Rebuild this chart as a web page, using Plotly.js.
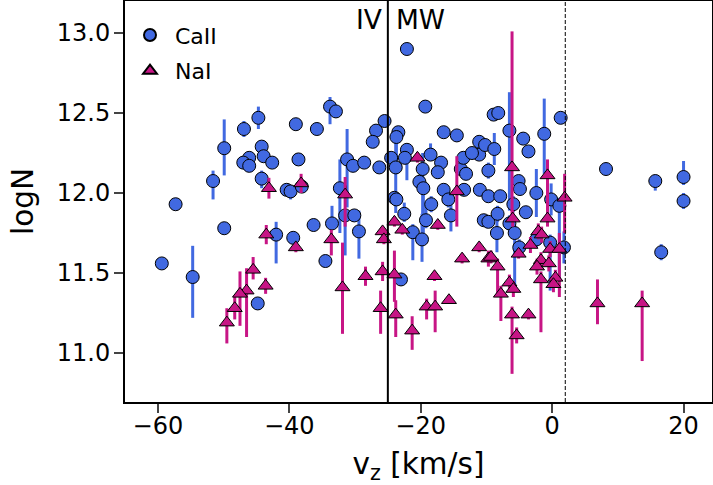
<!DOCTYPE html>
<html>
<head>
<meta charset="utf-8">
<script src="https://cdn.plot.ly/plotly-3.0.1.min.js"></script>
<style>html,body{margin:0;padding:0;background:#fff;}#chart{width:713px;height:485px;}</style>
</head>
<body>
<div id="chart"></div>
<script>
// CaII absorption: velocity, column density, upper/lower errors
const caX = [-44.7,-46.9,-49.9,-44.2,-46.1,-43.9,-47.0,-46.1,-42.6,-51.6,-44.2,-57.3,-49.9,-59.4,-54.7,-44.8,-42.0,
  -39.0,-35.8,-33.8,-32.9,-38.6,-40.4,-39.8,-38.1,-31.2,-30.3,-28.6,-26.3,-25.5,-26.8,-27.3,-24.5,-32.3,-36.3,-33.5,
  -31.5,-30.1,-29.4,-39.4,-34.5,-22.1,-19.3,-23.4,-23.7,-16.5,-14.5,-22.1,-23.8,-22.4,-18.5,-19.7,-16.9,-17.4,-20.2,
  -19.6,-16.5,-15.8,-13.9,-13.1,-13.5,-13.4,-24.0,-23.7,-18.4,-22.5,-19.2,-15.4,-21.2,-19.8,-23.0,-11.0,-11.1,-11.1,
  -12.2,-10.2,-10.4,-9.7,-9.7,-9.7,-8.9,-8.2,1.3,-6.5,-4.4,-3.6,-1.2,-8.8,-5.1,-4.9,-7.9,-2.4,-0.15,1.1,-5.9,-4.0,
  -8.3,-6.5,-8.4,-5.7,-5.0,-2.4,-0.3,1.8,8.2,15.7,20.0,20.0,16.6];
const caY = [12.47,12.40,12.28,12.29,12.22,12.23,12.19,12.17,12.19,12.075,12.09,11.93,11.78,11.56,11.475,11.31,11.74,
  12.43,12.40,12.54,12.51,12.21,12.02,12.01,12.04,12.21,12.17,12.19,12.16,12.45,12.39,12.32,12.22,12.03,11.80,11.81,
  11.86,11.86,11.76,11.72,11.575,12.90,12.54,12.38,12.35,12.38,12.36,12.27,12.16,12.22,12.24,12.15,12.19,12.13,12.07,
  12.03,12.02,11.96,12.15,12.12,12.22,12.02,11.97,11.96,11.93,11.87,11.83,11.86,11.755,11.71,11.46,12.02,12.32,12.24,
  12.25,12.30,11.83,11.82,12.14,11.98,12.49,12.50,12.47,12.39,12.34,12.26,12.37,12.275,12.075,12.025,11.98,12.00,11.96,11.92,11.93,11.88,
  11.87,11.81,11.75,11.75,11.66,11.71,11.69,11.66,12.15,12.075,12.10,11.95,11.63];
const caErrUp = [0.07,0.05,0.18,0.03,0.03,0.03,0.03,0.03,0.03,0.065,0.05,0.02,0.03,0.02,0.195,0.03,0.08,
  0.02,0.04,0.06,0.03,0.04,0.03,0.03,0.03,0.19,0.03,0.03,0.03,0.03,0.03,0.03,0.03,0.18,0.02,0.11,
  0.03,0.03,0.13,0.03,0.02,0.02,0.02,0.02,0.03,0.02,0.03,0.03,0.19,0.03,0.07,0.10,0.03,0.03,0.03,
  0.03,0.03,0.05,0.03,0.03,0.03,0.03,0.03,0.03,0.05,0.07,0.10,0.10,0.05,0.16,0.03,0.03,0.03,0.03,
  0.03,0.03,0.03,0.03,0.05,0.03,0.03,0.03,0.03,0.24,0.03,0.03,0.22,0.10,0.03,0.03,0.03,0.15,0.10,0.05,0.05,0.03,
  0.05,0.05,0.10,0.05,0.05,0.05,0.05,0.10,0.01,0.01,0.10,0.05,0.05];
const caErrDown = [0.07,0.05,0.17,0.03,0.03,0.03,0.03,0.03,0.03,0.115,0.06,0.02,0.02,0.02,0.255,0.04,0.18,
  0.02,0.03,0.11,0.03,0.03,0.03,0.05,0.03,0.30,0.03,0.03,0.03,0.03,0.03,0.03,0.03,0.28,0.03,0.03,
  0.25,0.03,0.17,0.03,0.03,0.02,0.02,0.02,0.15,0.02,0.03,0.19,0.285,0.03,0.04,0.30,0.03,0.03,0.03,
  0.31,0.03,0.05,0.03,0.03,0.03,0.03,0.03,0.03,0.05,0.05,0.05,0.10,0.175,0.14,0.03,0.03,0.03,0.03,
  0.03,0.03,0.03,0.03,0.05,0.03,0.03,0.03,0.03,0.50,0.03,0.03,0.25,0.10,0.03,0.03,0.03,0.15,0.10,0.46,0.05,0.03,
  0.05,0.05,0.12,0.35,0.05,0.05,0.30,0.10,0.01,0.06,0.05,0.05,0.05];

// NaI absorption
const naX = [-43.1,-43.5,-45.5,-43.6,-46.5,-47.5,-48.3,-49.5,-38.2,-31.5,-39.0,-33.6,-31.9,-28.4,-25.8,-25.8,-25.6,
  -24.0,-24.0,-26.1,-23.8,-20.5,-14.5,-22.8,-17.4,-17.9,-11.1,-13.7,-9.7,-21.3,-19.1,-17.8,-15.7,-6.1,-0.7,1.9,
  -6.0,-0.7,-2.1,-1.6,-3.3,-0.3,1.1,-9.3,-8.3,-5.1,-1.7,-2.3,-0.5,-6.5,-5.9,-1.7,0.5,0.2,-7.8,-6.1,-3.6,-5.4,6.9,13.7];
const naY = [12.03,11.74,11.52,11.42,11.39,11.37,11.28,11.19,12.06,11.99,11.66,11.71,11.41,11.48,11.51,11.76,11.71,
  11.82,11.49,11.28,11.24,12.22,12.01,11.77,11.80,11.48,11.66,11.59,11.59,11.14,11.29,11.29,11.33,12.16,12.11,11.97,
  11.84,11.84,11.76,11.74,11.675,11.65,11.65,11.60,11.54,11.62,11.58,11.54,11.56,11.44,11.40,11.46,11.47,11.43,11.37,11.24,11.24,11.11,11.31,11.31];
const naErrUp = [0.065,0.06,0.08,0.05,0.14,0.14,0.08,0.09,0.06,0.11,0.03,0.06,0.28,0.06,0.06,0.03,0.03,
  0.03,0.15,0.11,0.09,0.03,0.22,0.03,0.03,0.03,0.03,0.03,0.05,0.09,0.05,0.10,0.02,0.85,0.10,0.15,
  0.05,0.05,0.05,0.05,0.05,0.05,0.10,0.04,0.05,0.03,0.05,0.05,0.05,0.05,0.05,0.05,0.05,0.05,0.05,0.05,0.03,0.05,0.15,0.08];
const naErrDown = [0.065,0.06,0.06,0.05,0.29,0.20,0.07,0.13,0.06,0.20,0.03,0.10,0.29,0.06,0.06,0.03,0.03,
  0.03,0.17,0.16,0.14,0.03,0.22,0.03,0.03,0.03,0.03,0.03,0.05,0.12,0.08,0.16,0.02,0.30,0.30,0.22,
  0.05,0.05,0.05,0.05,0.05,0.05,0.30,0.04,0.17,0.03,0.05,0.05,0.05,0.05,0.05,0.33,0.05,0.05,0.17,0.37,0.03,0.05,0.13,0.36];

const xTicks = [-60,-40,-20,0,20];
const yTicks = [11.0,11.5,12.0,12.5,13.0];
const ivBoundary = -25;
const mwDashed = 2;

const FONT = 'DejaVu Sans, sans-serif';

const traces = [
  {
    x: caX, y: caY, type: 'scatter', mode: 'markers', name: 'CaII', legendgroup: 'ca',
    marker: {symbol: 'circle', size: 13, color: '#4169E1', line: {color: '#000', width: 1}},
    error_y: {type: 'data', symmetric: false, array: caErrUp, arrayminus: caErrDown,
              color: '#4169E1', thickness: 3, width: 0}
  },
  {
    x: naX, y: naY, type: 'scatter', mode: 'markers', name: 'NaI', legendgroup: 'na',
    marker: {symbol: 'triangle-up', size: 13, color: '#C71585', line: {color: '#000', width: 1}},
    error_y: {type: 'data', symmetric: false, array: naErrUp, arrayminus: naErrDown,
              color: '#C71585', thickness: 3, width: 0}
  }
];

const layout = {
  width: 713, height: 485,
  margin: {l: 125, r: 1, t: 1, b: 83},
  paper_bgcolor: '#fff', plot_bgcolor: '#fff',
  font: {family: FONT, size: 24, color: '#000'},
  showlegend: true,
  legend: {x: 0.0, y: 0.967, xanchor: 'left', yanchor: 'top', bgcolor: 'rgba(0,0,0,0)',
           font: {family: FONT, size: 22}, itemsizing: 'constant', itemwidth: 40,
           traceorder: 'grouped', tracegroupgap: 4},
  xaxis: {
    range: [-65.0, 24.33], tickvals: xTicks, ticks: 'outside', ticklen: 9, tickwidth: 2,
    showline: true, mirror: true, linecolor: '#000', linewidth: 2, showgrid: false, zeroline: false,
    tickfont: {family: FONT, size: 24}, ticklabelstandoff: -8,
    title: {text: 'v<sub>z</sub> [km/s]', font: {family: FONT, size: 29.5}, standoff: 16}
  },
  yaxis: {
    range: [10.694, 13.2], tickvals: yTicks, tickformat: '.1f', ticks: 'outside', ticklen: 9, tickwidth: 2,
    showline: true, mirror: true, linecolor: '#000', linewidth: 2, showgrid: false, zeroline: false,
    tickfont: {family: FONT, size: 24}, ticklabelstandoff: -1,
    title: {text: 'logN', font: {family: FONT, size: 29.5}, standoff: 14}
  },
  shapes: [
    {type: 'line', xref: 'x', yref: 'paper', x0: ivBoundary, x1: ivBoundary, y0: 0, y1: 1,
     line: {color: '#000', width: 2}, layer: 'above'},
    {type: 'line', xref: 'x', yref: 'paper', x0: mwDashed, x1: mwDashed, y0: 0, y1: 1,
     line: {color: '#000', width: 1, dash: '4px,2px'}, layer: 'above'}
  ],
  annotations: [
    {text: 'IV', xref: 'x', yref: 'paper', x: ivBoundary, y: 0.955, xanchor: 'right', yanchor: 'middle',
     xshift: -4, showarrow: false, font: {family: FONT, size: 26.5, color: '#000'}},
    {text: 'MW', xref: 'x', yref: 'paper', x: ivBoundary, y: 0.955, xanchor: 'left', yanchor: 'middle',
     xshift: 6, showarrow: false, font: {family: FONT, size: 26.5, color: '#000'}}
  ]
};

Plotly.newPlot('chart', traces, layout, {displayModeBar: false, staticPlot: true});
</script>
</body>
</html>
